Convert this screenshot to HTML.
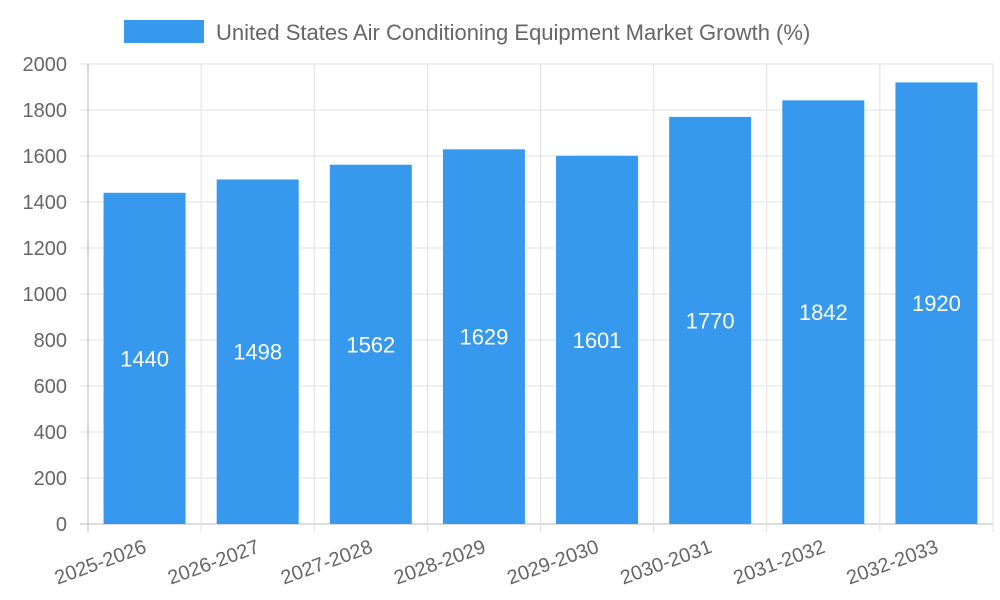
<!DOCTYPE html>
<html><head><meta charset="utf-8"><style>
body{margin:0;background:#fff;}
svg{display:block;font-family:"Liberation Sans",sans-serif;}
</style></head><body>
<svg id="chart" width="1000" height="600">
<g>
<rect x="124" y="20" width="80" height="23" fill="#3699ee"></rect>
<text x="216" y="40" font-size="22" fill="#666">United States Air Conditioning Equipment Market Growth (%)</text>
</g>
<g id="grid"></g>
<g id="bars"></g>
<g id="axes"></g>
</svg>
<script>
const categories=["2025-2026","2026-2027","2027-2028","2028-2029","2029-2030","2030-2031","2031-2032","2032-2033"];
const values=[1440,1498,1562,1629,1601,1770,1842,1920];
const yTicks=[0,200,400,600,800,1000,1200,1400,1600,1800,2000];
const NS="http://www.w3.org/2000/svg";
const L=88,R=993,T=64,B=524,yMax=2000;
const bw=(R-L)/categories.length;
const y=v=>B-(v/yMax)*(B-T);
const x=i=>L+bw*i;
function mk(tag,attrs,parent){const e=document.createElementNS(NS,tag);for(const k in attrs)e.setAttribute(k,attrs[k]);parent.appendChild(e);return e;}
const grid=document.getElementById('grid'),bars=document.getElementById('bars'),axes=document.getElementById('axes');
yTicks.forEach(t=>{
 const g=mk('line',{x1:80,x2:R,y1:y(t),y2:y(t),stroke:t===0?'#bbb':'#e0e0e0','stroke-width':1},grid);
 
 
 const lb=mk('text',{x:67,y:y(t)+7,'text-anchor':'end','font-size':20,fill:'#666'},axes);
 lb.textContent=t;
 
 
});
for(let i=0;i<=categories.length;i++){
 const g=mk('line',{x1:x(i),x2:x(i),y1:T,y2:B+8,stroke:i===0?'#bbb':'#e0e0e0','stroke-width':1},grid);
 
 
}
categories.forEach((c,i)=>{
 const cx=x(i)+bw/2,w=82;
 const r=mk('rect',{x:cx-w/2,y:y(values[i]),width:w,height:B-y(values[i]),fill:'#3699ee'},bars);
 
 
 const v=mk('text',{x:cx,y:(y(values[i])+B)/2+8,'text-anchor':'middle','font-size':22,fill:'#fff'},bars);
 v.textContent=values[i];
 
 
 const lb=mk('text',{x:0,y:0,'text-anchor':'end','font-size':20,fill:'#666',transform:`translate(${cx+3},${B+28}) rotate(-20)`},axes);
 lb.textContent=c;
 
 
});
const ax=mk('line',{x1:L,x2:L,y1:T,y2:B,stroke:'#bbb'},axes);


</script>
</body></html>
